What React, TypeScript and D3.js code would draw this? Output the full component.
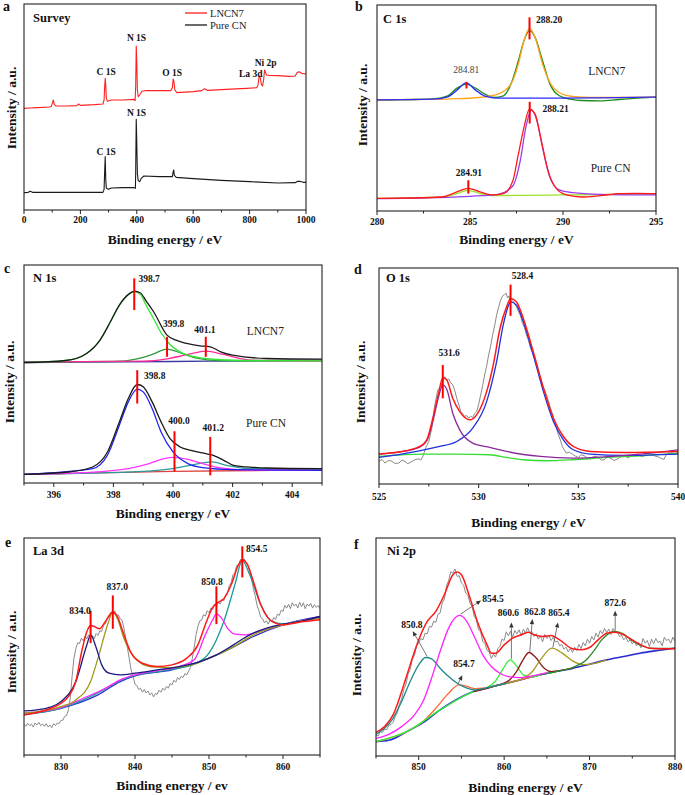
import React from "react";
import * as d3 from "d3";

type Pt = [number, number];

// ================= Panel a : Survey =================
const surveyMajorTicks = [0, 200, 400, 600, 800, 1000];
const surveyMinorTicks = [100, 300, 500, 700, 900];
const surveyLNCN7: Pt[] = [[0,305],[20,306],[50,307],[90,309],[97,311],[101,322],[104,330],[107,318],[112,312],[150,312],[188,313],[194,318],[200,314],[250,316],[280,318],[284,330],[286,370],[288,395],[290,372],[292,335],[296,326],[310,330],[350,330],[390,332],[394,328],[396,370],[398,492],[400,440],[402,360],[405,340],[410,345],[418,356],[430,358],[480,358],[520,358],[526,366],[529,393],[532,384],[535,360],[542,352],[600,355],[630,358],[640,364],[650,359],[700,361],[770,364],[790,365],[826,367],[830,376],[834,402],[838,396],[842,376],[846,372],[850,392],[853,420],[856,414],[860,405],[870,404],[900,403],[940,401],[962,402],[968,412],[975,415],[985,410],[1000,408]];
const surveyPureCN: Pt[] = [[0,52],[15,53],[22,56],[30,53],[100,53],[200,53],[280,53],[284,62],[286,115],[288,160],[290,90],[292,65],[300,62],[310,66],[350,67],[390,67],[395,65],[396,110],[398,272],[400,200],[402,110],[405,88],[410,85],[416,95],[425,102],[480,100],[526,100],[529,115],[531,120],[533,104],[540,98],[600,94],[700,89],[800,85],[900,81],[962,82],[970,86],[978,86],[990,83],[1000,83]];
const surveyLabels = [
  { text: "C 1S", x: 291, y: 406 },
  { text: "N 1S", x: 399, y: 508 },
  { text: "O 1S", x: 525, y: 401 },
  { text: "La 3d", x: 804, y: 399 },
  { text: "Ni 2p", x: 857, y: 431 },
  { text: "N 1S", x: 399, y: 281 },
  { text: "C 1S", x: 291, y: 166 },
];
const surveyLegend = ["LNCN7", "Pure CN"];

// ================= Panel b : C 1s =================
const c1sMajorTicks = [280, 285, 290, 295];
const c1sMinorTicks = [282.5, 287.5, 292.5];
const c1sLNCN7Green: Pt[] = [[280,332],[281,333],[282,334],[283,336],[283.8,345],[284.3,368],[284.8,380],[285.3,368],[285.8,350],[286.3,340],[286.8,345],[287.2,380],[287.6,450],[287.9,510],[288.2,540],[288.5,520],[288.9,450],[289.3,380],[289.8,345],[290.4,335],[291,331],[292,330],[293,334],[294,338],[295,341]];
const c1sLNCN7Blue: Pt[] = [[280,333],[283,335],[283.8,342],[284.3,362],[284.8,384],[285.3,362],[285.8,344],[286.5,338],[288,338],[290,338],[292,339],[295,341]];
const c1sLNCN7Orange: Pt[] = [[280,332],[282,334],[284,336],[285.5,340],[286.5,350],[287.2,380],[287.6,440],[287.9,510],[288.2,547],[288.5,520],[288.9,440],[289.3,385],[289.8,355],[290.5,343],[291.5,340],[293,340],[295,341]];
const c1sPureRed: Pt[] = [[280,38],[282,39],[283.5,42],[284.2,55],[284.9,68],[285.5,58],[286.2,48],[286.8,52],[287.3,90],[287.6,170],[287.9,250],[288.2,305],[288.5,290],[288.8,220],[289.2,120],[289.6,70],[290.2,48],[291,42],[292,46],[293,52],[294,53],[295,52]];
const c1sPurePurple: Pt[] = [[280,37],[283,40],[285,44],[286.5,50],[287.3,75],[287.7,150],[288,250],[288.3,302],[288.6,270],[288.9,190],[289.3,100],[289.8,63],[290.5,55],[292,50],[295,48]];
const c1sPureLime: Pt[] = [[280,38],[283.5,42],[284.3,52],[284.9,62],[285.5,53],[286.3,46],[288,47],[290,48],[292,49],[295,51]];
const c1sMarkers = [
  { x: 284.81, y0: 367, y1: 387 },
  { x: 288.2, y0: 514, y1: 580 },
  { x: 284.91, y0: 52, y1: 92 },
  { x: 288.21, y0: 262, y1: 327 },
];
const c1sLabels = [
  { text: "284.81", x: 284.8, y: 412, anchor: "middle", bold: false, color: "#444" },
  { text: "288.20", x: 288.55, y: 564, anchor: "start", bold: true, color: "#111" },
  { text: "284.91", x: 284.94, y: 104, anchor: "middle", bold: true, color: "#111" },
  { text: "288.21", x: 288.9, y: 297, anchor: "start", bold: true, color: "#111" },
];
const c1sSamples = [
  { text: "LNCN7", x: 292.35, y: 407 },
  { text: "Pure CN", x: 292.56, y: 117 },
];

// ================= Panel c : N 1s =================
const n1sMajorTicks = [396, 398, 400, 402, 404];
const n1sMinorTicks = [395, 397, 399, 401, 403, 405];
const n1sLNCN7Black: Pt[] = [[395,361],[396.4,367],[397.1,388],[397.55,428],[397.9,483],[398.2,533],[398.55,568],[398.7,575],[398.9,570],[399.1,545],[399.35,513],[399.8,443],[400.1,428],[400.46,418],[400.9,411],[401.25,408],[401.6,393],[402,383],[403.15,373],[405,371]];
const n1sLNCN7Lime: Pt[] = [[395,361],[396.4,367],[397.1,388],[397.55,428],[397.9,483],[398.2,533],[398.55,568],[398.7,573],[398.9,565],[399.1,532],[399.35,492],[399.6,450],[399.9,415],[400.3,390],[400.8,377],[401.5,370],[402.5,367],[405,366]];
const n1sLNCN7DarkGreen: Pt[] = [[395,362],[398,364],[398.8,372],[399.3,385],[399.8,401],[400.3,388],[400.8,374],[401.5,367],[403,366],[405,366]];
const n1sLNCN7Magenta: Pt[] = [[395,362],[399,365],[399.8,372],[400.5,385],[401.1,395],[401.7,385],[402.3,372],[403,367],[405,366]];
const n1sLNCN7Base: Pt[] = [[395,361],[400,364],[405,368]];
const n1sPureBlack: Pt[] = [[395,26],[396.5,33],[397.3,48],[397.8,93],[398.2,183],[398.5,253],[398.8,295],[399,288],[399.3,243],[399.6,183],[399.9,133],[400.24,108],[400.6,98],[401.1,88],[401.3,84],[401.7,68],[402.03,53],[402.7,47],[403.15,45],[405,43]];
const n1sPureBlue: Pt[] = [[395,26],[397.3,43],[397.8,83],[398.2,173],[398.5,243],[398.8,281],[399,273],[399.3,223],[399.6,153],[400,93],[400.5,58],[401,46],[402,40],[405,38]];
const n1sPureMagenta: Pt[] = [[395,26],[397,31],[398.5,43],[399.2,58],[399.7,73],[400,77],[400.5,71],[401,58],[401.6,45],[402.5,39],[405,38]];
const n1sPureTeal: Pt[] = [[395,26],[399,35],[400,43],[400.7,55],[401.3,63],[401.8,53],[402.5,43],[405,41]];
const n1sPureBase: Pt[] = [[395,26],[400,35],[405,39]];
const n1sMarkers = [
  { x: 398.7, y0: 518, y1: 613 },
  { x: 399.8, y0: 378, y1: 438 },
  { x: 401.1, y0: 378, y1: 438 },
  { x: 398.8, y0: 238, y1: 338 },
  { x: 400.05, y0: 35, y1: 155 },
  { x: 401.25, y0: 23, y1: 138 },
];
const n1sLabels = [
  { text: "398.7", x: 398.84, y: 601, anchor: "start" },
  { text: "399.8", x: 400.02, y: 468, anchor: "middle" },
  { text: "401.1", x: 401.07, y: 448, anchor: "middle" },
  { text: "398.8", x: 399.03, y: 311, anchor: "start" },
  { text: "400.0", x: 400.2, y: 176, anchor: "middle" },
  { text: "401.2", x: 401.35, y: 155, anchor: "middle" },
];
const n1sSamples = [
  { text: "LNCN7", x: 403.1, y: 443 },
  { text: "Pure CN", x: 403.12, y: 168 },
];

// ================= Panel d : O 1s =================
const o1sMajorTicks = [525, 530, 535, 540];
const o1sMinorTicks = [527.5, 532.5, 537.5];
const o1sRaw: Pt[] = [[525,68],[525.15,74],[525.3,63],[525.45,70],[525.6,70],[525.8,62],[526,63],[526.15,72],[526.3,68],[526.45,61],[526.6,66],[526.8,73],[527,76],[527.1,72],[527.2,83],[527.35,110],[527.5,128],[527.65,168],[527.8,238],[527.95,283],[528.1,293],[528.2,310],[528.3,323],[528.4,312],[528.5,316],[528.6,305],[528.7,298],[528.8,282],[528.9,258],[529,240],[529.1,218],[529.2,212],[529.3,203],[529.4,206],[529.5,198],[529.6,204],[529.7,200],[529.8,212],[529.9,218],[530,240],[530.1,268],[530.2,296],[530.3,328],[530.4,355],[530.5,388],[530.6,415],[530.7,448],[530.8,476],[530.9,508],[531,532],[531.1,553],[531.2,566],[531.3,570],[531.38,574],[531.45,560],[531.52,566],[531.6,548],[531.7,552],[531.8,543],[531.9,534],[532,518],[532.1,506],[532.2,483],[532.3,470],[532.4,448],[532.5,432],[532.6,408],[532.7,396],[532.8,378],[532.9,362],[533,338],[533.1,322],[533.2,298],[533.3,285],[533.4,268],[533.5,250],[533.6,228],[533.7,212],[533.8,188],[533.9,170],[534,148],[534.1,132],[534.2,113],[534.3,102],[534.4,93],[534.55,96],[534.7,90],[534.85,84],[535,80],[535.15,88],[535.3,85],[535.45,78],[535.6,76],[535.8,84],[536,80],[536.15,72],[536.3,73],[536.45,81],[536.6,78],[536.8,71],[537,76],[537.15,84],[537.3,86],[537.45,79],[537.6,82],[537.8,88],[538,90],[538.15,83],[538.3,84],[538.45,92],[538.6,91],[538.8,85],[539,82],[539.15,77],[539.3,74],[539.4,88],[539.5,92],[539.7,94],[539.85,90],[540,95]];
const o1sRed: Pt[] = [[525,90],[526,96],[527.04,113],[527.4,133],[527.7,198],[527.97,268],[528.2,320],[528.4,313],[528.7,258],[529.05,218],[529.56,193],[529.9,208],[530.4,278],[530.73,358],[531.07,468],[531.4,533],[531.6,558],[531.9,548],[532.24,498],[532.74,398],[533.25,288],[533.75,198],[534.25,143],[534.75,113],[535.6,98],[537.3,95],[540,98]];
const o1sPurple: Pt[] = [[525,90],[526,96],[527.04,111],[527.4,130],[527.7,188],[527.97,258],[528.2,298],[528.4,285],[528.7,213],[529.05,163],[529.7,123],[530.56,110],[531.4,98],[533.1,83],[534.75,78],[536.4,82],[538.1,90],[540,103]];
const o1sBlue: Pt[] = [[525,80],[526.4,93],[528.05,113],[528.9,128],[529.7,168],[530.4,248],[530.9,368],[531.23,478],[531.5,538],[531.6,548],[531.9,538],[532.24,488],[532.74,388],[533.25,278],[533.75,188],[534.25,133],[534.75,103],[535.6,90],[537.3,86],[540,90]];
const o1sGreen: Pt[] = [[525,83],[527.2,90],[528.9,90],[530.56,88],[531.4,80],[532.24,73],[533.4,70],[534.75,73],[536.4,80],[538.1,85],[540,93]];
const o1sMarkers = [
  { x: 528.2, y0: 258, y1: 358 },
  { x: 531.6, y0: 506, y1: 600 },
];
const o1sLabels = [
  { text: "531.6", x: 528.52, y: 386, anchor: "middle" },
  { text: "528.4", x: 532.2, y: 616, anchor: "middle" },
];

// ================= Panel e : La 3d =================
const la3dMajorTicks = [830, 840, 850, 860];
const la3dMinorTicks = [825, 835, 845, 855, 865];
const la3dRaw: Pt[] = [[825,92],[825.25,86],[825.5,95],[825.75,88],[826,92],[826.25,84],[826.5,96],[826.75,90],[827,98],[827.25,88],[827.5,93],[827.75,86],[828,94],[828.25,84],[828.5,90],[828.75,82],[829,94],[829.25,88],[829.5,96],[829.75,94],[830,104],[830.25,104],[830.5,116],[830.75,118],[831,135],[831.25,170],[831.5,235],[831.75,290],[832,318],[832.25,336],[832.5,334],[832.75,350],[833,342],[833.25,356],[833.5,348],[833.75,360],[834,352],[834.25,358],[834.5,348],[834.75,364],[835,358],[835.25,372],[835.5,370],[835.75,388],[836,392],[836.25,410],[836.5,412],[836.75,428],[837,422],[837.25,432],[837.5,418],[837.75,420],[838,408],[838.25,404],[838.5,380],[838.75,350],[839,318],[839.25,285],[839.5,252],[839.75,235],[840,212],[840.25,208],[840.5,196],[840.75,200],[841,188],[841.25,196],[841.5,186],[841.75,192],[842,180],[842.25,186],[842.5,174],[842.75,184],[843,182],[843.25,194],[843.5,188],[843.75,200],[844,194],[844.25,206],[844.5,200],[844.75,214],[845,210],[845.25,224],[845.5,218],[845.75,232],[846,226],[846.25,236],[846.5,232],[846.75,244],[847,240],[847.25,252],[847.5,262],[847.75,290],[848,322],[848.25,360],[848.5,385],[848.75,402],[849,404],[849.25,420],[849.5,416],[849.75,432],[850,426],[850.25,440],[850.5,436],[850.75,452],[851,446],[851.25,458],[851.5,452],[851.75,466],[852,462],[852.25,480],[852.5,486],[852.75,508],[853,516],[853.25,540],[853.5,546],[853.75,568],[854,568],[854.25,586],[854.5,580],[854.75,588],[855,576],[855.25,570],[855.5,550],[855.75,528],[856,498],[856.25,476],[856.5,448],[856.75,432],[857,412],[857.25,408],[857.5,396],[857.75,402],[858,392],[858.25,404],[858.5,398],[858.75,412],[859,406],[859.25,422],[859.5,418],[859.75,434],[860,430],[860.25,448],[860.5,440],[860.75,452],[861,438],[861.25,456],[861.5,446],[861.75,452],[862,440],[862.25,458],[862.5,444],[862.75,456],[863,438],[863.25,452],[863.5,446],[863.75,454],[864,440],[864.25,450],[864.5,442],[864.75,448],[865,438]];
const la3dRed: Pt[] = [[825,120],[828,135],[830,155],[831,175],[832,220],[832.8,310],[833.5,370],[834,388],[834.5,385],[835.2,378],[836,400],[837,428],[837.6,415],[838.5,360],[839.5,305],[841,275],[843,265],[845,270],[847,290],[848.5,330],[849.5,390],[850.5,442],[851.3,458],[852,468],[853,510],[854,570],[854.5,585],[855.2,570],[856,520],[857,450],[858,410],[859,395],[860,390],[862,397],[865,405]];
const la3dNavy: Pt[] = [[825,132],[828,140],[830,160],[832,220],[833.5,330],[834,360],[834.7,325],[835.5,270],[836.5,245],[838,240],[840,245],[843,255],[846,265],[848.8,280],[851,300],[853.3,330],[855.5,360],[857.8,380],[860,392],[862.3,400],[865,415]];
const la3dOlive: Pt[] = [[825,125],[830,145],[832,165],[834,220],[835,290],[836.3,390],[837,428],[837.6,410],[838.5,350],[840,290],[842,265],[845,262],[848,272],[850,290],[853,320],[856,360],[860,390],[865,410]];
const la3dMagenta: Pt[] = [[825,125],[830,142],[833,170],[836,200],[838,225],[840,240],[843,253],[846,265],[848,285],[849.5,360],[850.5,405],[851,423],[851.7,410],[852.5,380],[853.5,362],[855,360],[857,372],[860,390],[865,412]];
const la3dTeal: Pt[] = [[825,122],[830,140],[833,165],[836,198],[838,223],[840,238],[843,250],[846,260],[848,272],[850,305],[852,400],[853.5,510],[854.5,582],[855.5,540],[857,450],[858.5,400],[860,393],[862,400],[865,412]];
const la3dBase: Pt[] = [[825,122],[830,140],[835,180],[838,220],[840,237],[845,255],[850,290],[853,320],[856,355],[860,390],[865,415]];
const la3dMarkers = [
  { x: 834.0, y0: 335, y1: 432 },
  { x: 837.0, y0: 378, y1: 478 },
  { x: 851.0, y0: 392, y1: 505 },
  { x: 854.5, y0: 532, y1: 625 },
];
const la3dLabels = [
  { text: "834.0", x: 832.57, y: 422, anchor: "middle" },
  { text: "837.0", x: 837.6, y: 495, anchor: "middle" },
  { text: "850.8", x: 850.4, y: 510, anchor: "middle" },
  { text: "854.5", x: 855.0, y: 608, anchor: "start" },
];

// ================= Panel f : Ni 2p =================
const ni2pMajorTicks = [850, 860, 870, 880];
const ni2pMinorTicks = [845, 855, 865, 875];
const ni2pRaw: Pt[] = [[845,63],[845.25,60],[845.5,74],[845.75,70],[846,80],[846.25,79],[846.5,92],[846.75,94],[847,101],[847.25,118],[847.5,130],[847.75,156],[848,170],[848.25,199],[848.5,214],[848.75,245],[849,259],[849.25,290],[849.5,302],[849.75,330],[850,338],[850.25,352],[850.5,348],[850.75,368],[851,366],[851.25,388],[851.5,386],[851.75,404],[852,400],[852.25,424],[852.5,428],[852.75,458],[853,470],[853.25,510],[853.5,525],[853.75,552],[854,548],[854.25,560],[854.5,538],[854.75,540],[855,518],[855.25,512],[855.5,488],[855.75,482],[856,458],[856.25,448],[856.5,418],[856.75,408],[857,378],[857.25,372],[857.5,342],[857.75,338],[858,316],[858.25,312],[858.5,292],[858.75,305],[859,296],[859.25,322],[859.5,328],[859.75,350],[860,346],[860.25,372],[860.5,360],[860.75,374],[861,356],[861.25,376],[861.5,366],[861.75,378],[862,360],[862.25,380],[862.5,368],[862.75,384],[863,370],[863.25,372],[863.5,358],[863.75,366],[864,350],[864.25,360],[864.5,342],[864.75,364],[865,352],[865.25,360],[865.5,346],[865.75,356],[866,342],[866.25,344],[866.5,330],[866.75,334],[867,320],[867.25,326],[867.5,312],[867.75,322],[868,310],[868.25,326],[868.5,316],[868.75,334],[869,322],[869.25,340],[869.5,330],[869.75,350],[870,338],[870.25,358],[870.5,348],[870.75,368],[871,356],[871.25,376],[871.5,366],[871.75,382],[872,370],[872.25,380],[872.5,364],[872.75,382],[873,370],[873.25,372],[873.5,358],[873.75,362],[874,348],[874.25,356],[874.5,342],[874.75,348],[875,336],[875.25,344],[875.5,330],[875.75,340],[876,324],[876.25,352],[876.5,338],[876.75,346],[877,328],[877.25,350],[877.5,336],[877.75,352],[878,340],[878.25,344],[878.5,330],[878.75,356],[879,346],[879.25,350],[879.5,338],[879.75,356],[880,344]];
const ni2pRed: Pt[] = [[845,71],[846,88],[847,123],[848,193],[849,273],[850,348],[851,403],[852,433],[853,483],[854,543],[854.5,551],[855,543],[856,473],[857,393],[858,333],[858.5,308],[859,308],[860,333],[861,353],[862,363],[862.8,371],[863.5,363],[864.5,358],[865.5,361],[866.5,348],[868,321],[869,318],[870,325],[871,348],[872,368],[873,371],[874,363],[875,348],[876,333],[877,323],[880,321]];
const ni2pBase: Pt[] = [[845,43],[846.5,47],[848.6,73],[850.5,100],[852.5,138],[854.5,170],[856.4,193],[858.3,206],[860.3,218],[862.2,230],[864.2,243],[866.1,253],[868.1,263],[870,275],[872,288],[874,298],[875.9,308],[878,316],[880,323]];
const ni2pTeal: Pt[] = [[845,65],[846,83],[847,113],[848,163],[849,223],[850,273],[850.8,295],[851.5,291],[852.5,263],[853.5,238],[854.5,218],[855.5,205],[856.5,198],[858.3,206],[860.3,218]];
const ni2pMagenta: Pt[] = [[845,53],[846.5,65],[848,88],[849.5,123],[850.5,163],[851.5,233],[852.5,313],[853.5,383],[854.3,415],[854.8,421],[855.5,408],[856.5,358],[857.5,303],[858.5,268],[859.5,248],[860.5,238],[862,235],[863.5,241],[865,250]];
const ni2pOrange: Pt[] = [[845,43],[848.6,73],[850.5,103],[852,143],[853.5,188],[854.7,213],[855.5,210],[856.5,202],[857.5,203],[858.5,207],[860.3,218],[862.2,230],[864.2,243]];
const ni2pGreen: Pt[] = [[845,43],[848.6,73],[852.5,138],[856.4,193],[858,205],[859,225],[859.8,258],[860.7,288],[861.5,268],[862.3,242],[863.2,237],[864.5,245],[866.1,253]];
const ni2pBrown: Pt[] = [[856.4,193],[859,210],[860.5,225],[861.5,255],[862.3,292],[862.9,310],[863.7,295],[864.6,265],[865.5,253],[867,258],[868.1,263]];
const ni2pOlive: Pt[] = [[858.3,206],[860.3,218],[862,230],[863.2,250],[864.3,290],[865.6,323],[866.8,308],[868,285],[869.2,274],[870.5,277],[872,288]];
const ni2pDarkGreen: Pt[] = [[864.2,243],[866.1,253],[868,265],[869.5,285],[870.5,315],[871.5,350],[872.9,373],[874,365],[875,345],[876.3,328],[877.5,322],[879,322],[880,323]];
const ni2pArrows = [
  { text: "850.8", fromX: 851.0, fromY: 298, toX: 849.3, toY: 374, lx: 849.2, ly: 384 },
  { text: "854.5", fromX: 854.9, fromY: 425, toX: 857.3, toY: 466, lx: 858.7, ly: 461 },
  { text: "854.7", fromX: 854.6, fromY: 216, toX: 855.1, toY: 242, lx: 855.3, ly: 266 },
  { text: "860.6", fromX: 860.85, fromY: 290, toX: 860.85, toY: 400, lx: 860.5, ly: 420 },
  { text: "862.8", fromX: 863.0, fromY: 312, toX: 863.3, toY: 410, lx: 863.6, ly: 423 },
  { text: "865.4", fromX: 865.7, fromY: 325, toX: 866.3, toY: 400, lx: 866.4, ly: 418 },
  { text: "872.6", fromX: 873.0, fromY: 375, toX: 873.0, toY: 435, lx: 873.0, ly: 450 },
];

// ================= Rendering =================
const FONT = "'Liberation Serif', 'Times New Roman', serif";

type Curve = { data: Pt[]; color: string; width?: number; smooth?: boolean };
type PanelCfg = {
  id: string;
  letter: string;
  letterPos: [number, number];
  title: string;
  titlePos: [number, number];
  box: { left: number; right: number; top: number; bottom: number };
  xDomain: [number, number];
  yMax: number;
  major: number[];
  minor: number[];
  tickLabelY: number;
  xLabel: string;
  xLabelY: number;
  yLabelPos: [number, number];
  curves: Curve[];
  markers?: { x: number; y0: number; y1: number }[];
  labels?: { text: string; x: number; y: number; anchor?: string; bold?: boolean; color?: string }[];
  samples?: { text: string; x: number; y: number }[];
  arrows?: typeof ni2pArrows;
};

function Panel({ cfg }: { cfg: PanelCfg }) {
  const { box } = cfg;
  const x = d3.scaleLinear().domain(cfg.xDomain).range([box.left, box.right]);
  const y = d3.scaleLinear().domain([0, cfg.yMax]).range([box.bottom, box.top]);
  const smooth = d3.line<Pt>().x((d) => x(d[0])).y((d) => y(d[1])).curve(d3.curveMonotoneX);
  const straight = d3.line<Pt>().x((d) => x(d[0])).y((d) => y(d[1]));
  const clipId = `clip-${cfg.id}`;
  return (
    <g>
      <defs>
        <clipPath id={clipId}>
          <rect x={box.left} y={box.top} width={box.right - box.left} height={box.bottom - box.top} />
        </clipPath>
      </defs>
      <g clipPath={`url(#${clipId})`}>
        {cfg.curves.map((c, i) => (
          <path
            key={i}
            d={(c.smooth === false ? straight : smooth)(c.data) || ""}
            fill="none"
            stroke={c.color}
            strokeWidth={c.width ?? 1.3}
            strokeLinejoin="round"
          />
        ))}
        {(cfg.markers || []).map((m, i) => (
          <line key={i} x1={x(m.x)} x2={x(m.x)} y1={y(m.y0)} y2={y(m.y1)} stroke="#ff0000" strokeWidth={2} />
        ))}
      </g>
      {(cfg.arrows || []).map((a, i) => {
        const x1 = x(a.fromX), y1 = y(a.fromY), x2 = x(a.toX), y2 = y(a.toY);
        const ang = Math.atan2(y2 - y1, x2 - x1);
        const L = 5, W = 2.2;
        const bx = x2 - L * Math.cos(ang), by = y2 - L * Math.sin(ang);
        const p1 = [bx + W * Math.sin(ang), by - W * Math.cos(ang)];
        const p2 = [bx - W * Math.sin(ang), by + W * Math.cos(ang)];
        return (
          <g key={i}>
            <line x1={x1} y1={y1} x2={bx} y2={by} stroke="#555" strokeWidth={0.8} />
            <polygon points={`${x2},${y2} ${p1[0]},${p1[1]} ${p2[0]},${p2[1]}`} fill="#333" />
            <text x={x(a.lx)} y={y(a.ly)} textAnchor="middle" fontFamily={FONT} fontWeight="bold" fontSize={9.5} fill="#111">
              {a.text}
            </text>
          </g>
        );
      })}
      {(cfg.labels || []).map((l, i) => (
        <text
          key={i}
          x={x(l.x)}
          y={y(l.y)}
          textAnchor={(l.anchor as any) || "middle"}
          fontFamily={FONT}
          fontWeight={l.bold === false ? "normal" : "bold"}
          fontSize={9.5}
          fill={l.color || "#111"}
        >
          {l.text}
        </text>
      ))}
      {(cfg.samples || []).map((l, i) => (
        <text key={i} x={x(l.x)} y={y(l.y)} textAnchor="middle" fontFamily={FONT} fontSize={11.5} fill="#222">
          {l.text}
        </text>
      ))}
      <rect x={box.left} y={box.top} width={box.right - box.left} height={box.bottom - box.top} fill="none" stroke="#222" strokeWidth={1.1} />
      {cfg.major.map((t) => (
        <g key={"M" + t}>
          <line x1={x(t)} x2={x(t)} y1={box.bottom} y2={box.bottom + 4} stroke="#222" strokeWidth={1} />
          <text x={x(t)} y={cfg.tickLabelY} textAnchor="middle" fontFamily={FONT} fontWeight="bold" fontSize={9.5} fill="#111">
            {t}
          </text>
        </g>
      ))}
      {cfg.minor.map((t) => (
        <line key={"m" + t} x1={x(t)} x2={x(t)} y1={box.bottom} y2={box.bottom + 2.5} stroke="#222" strokeWidth={1} />
      ))}
      <text x={(box.left + box.right) / 2} y={cfg.xLabelY} textAnchor="middle" fontFamily={FONT} fontWeight="bold" fontSize={13.5} fill="#111">
        {cfg.xLabel}
      </text>
      <text
        transform={`translate(${cfg.yLabelPos[0]},${cfg.yLabelPos[1]}) rotate(-90)`}
        textAnchor="middle"
        fontFamily={FONT}
        fontWeight="bold"
        fontSize={13.5}
        fill="#111"
      >
        Intensity / a.u.
      </text>
      <text x={cfg.titlePos[0]} y={cfg.titlePos[1]} fontFamily={FONT} fontWeight="bold" fontSize={12.5} fill="#111">
        {cfg.title}
      </text>
      <text x={cfg.letterPos[0]} y={cfg.letterPos[1]} fontFamily={FONT} fontWeight="bold" fontSize={14} fill="#111">
        {cfg.letter}
      </text>
    </g>
  );
}

const panels: PanelCfg[] = [
  {
    id: "a", letter: "a", letterPos: [3, 11], title: "Survey", titlePos: [33, 22],
    box: { left: 24, right: 306, top: 4, bottom: 210 }, xDomain: [0, 1000], yMax: 618,
    major: surveyMajorTicks, minor: surveyMinorTicks, tickLabelY: 223,
    xLabel: "Binding energy / eV", xLabelY: 244, yLabelPos: [16, 108],
    curves: [
      { data: surveyPureCN, color: "#1a1a1a", width: 1.1, smooth: false },
      { data: surveyLNCN7, color: "#ff2020", width: 1.1, smooth: false },
    ],
    labels: surveyLabels.map((l) => ({ ...l, anchor: "middle" })),
  },
  {
    id: "b", letter: "b", letterPos: [355, 11], title: "C 1s", titlePos: [383, 23],
    box: { left: 377, right: 656, top: 5, bottom: 211 }, xDomain: [280, 295], yMax: 617,
    major: c1sMajorTicks, minor: c1sMinorTicks, tickLabelY: 225,
    xLabel: "Binding energy / eV", xLabelY: 244, yLabelPos: [367, 105],
    curves: [
      { data: c1sLNCN7Green, color: "#1e8c1e" },
      { data: c1sLNCN7Orange, color: "#ffa31a" },
      { data: c1sLNCN7Blue, color: "#2b2bff" },
      { data: c1sPureLime, color: "#9be22a" },
      { data: c1sPurePurple, color: "#9a3cf0" },
      { data: c1sPureRed, color: "#ff1a1a" },
    ],
    markers: c1sMarkers, labels: c1sLabels, samples: c1sSamples,
  },
  {
    id: "c", letter: "c", letterPos: [4, 273], title: "N 1s", titlePos: [33, 282],
    box: { left: 24, right: 322, top: 265, bottom: 483 }, xDomain: [395, 405], yMax: 653,
    major: n1sMajorTicks, minor: n1sMinorTicks, tickLabelY: 498,
    xLabel: "Binding energy / eV", xLabelY: 518, yLabelPos: [14, 382],
    curves: [
      { data: n1sLNCN7Base, color: "#3a3aa0" },
      { data: n1sLNCN7DarkGreen, color: "#2e9a3e" },
      { data: n1sLNCN7Magenta, color: "#ff2d9a" },
      { data: n1sLNCN7Lime, color: "#33e633" },
      { data: n1sLNCN7Black, color: "#1a1a1a" },
      { data: n1sPureBase, color: "#e04040" },
      { data: n1sPureTeal, color: "#2a9a9a" },
      { data: n1sPureMagenta, color: "#ff33ff" },
      { data: n1sPureBlue, color: "#2222ee" },
      { data: n1sPureBlack, color: "#1a1a1a" },
    ],
    markers: n1sMarkers, labels: n1sLabels, samples: n1sSamples,
  },
  {
    id: "d", letter: "d", letterPos: [354, 274], title: "O 1s", titlePos: [386, 282],
    box: { left: 379, right: 678, top: 268, bottom: 484 }, xDomain: [525, 540], yMax: 650,
    major: o1sMajorTicks, minor: o1sMinorTicks, tickLabelY: 500,
    xLabel: "Binding energy / eV", xLabelY: 527, yLabelPos: [365, 382],
    curves: [
      { data: o1sRaw, color: "#8a8a8a", width: 1, smooth: false },
      { data: o1sGreen, color: "#33dd33" },
      { data: o1sBlue, color: "#1f2fe0" },
      { data: o1sPurple, color: "#8a2a9a" },
      { data: o1sRed, color: "#ff1a1a", width: 1.5 },
    ],
    markers: o1sMarkers, labels: o1sLabels,
  },
  {
    id: "e", letter: "e", letterPos: [5, 547], title: "La 3d", titlePos: [33, 555],
    box: { left: 24, right: 320, top: 538, bottom: 755 }, xDomain: [825, 865], yMax: 650,
    major: la3dMajorTicks, minor: la3dMinorTicks, tickLabelY: 770,
    xLabel: "Binding energy / ev", xLabelY: 790, yLabelPos: [16, 652],
    curves: [
      { data: la3dRaw, color: "#8a8a8a", width: 1, smooth: false },
      { data: la3dBase, color: "#3030d0" },
      { data: la3dTeal, color: "#1a9a9a" },
      { data: la3dMagenta, color: "#ff22ff" },
      { data: la3dOlive, color: "#a09a1a" },
      { data: la3dNavy, color: "#1a1a80" },
      { data: la3dRed, color: "#ff1a1a", width: 1.5 },
    ],
    markers: la3dMarkers, labels: la3dLabels,
  },
  {
    id: "f", letter: "f", letterPos: [354, 549], title: "Ni 2p", titlePos: [387, 555],
    box: { left: 376, right: 675, top: 538, bottom: 756 }, xDomain: [845, 880], yMax: 653,
    major: ni2pMajorTicks, minor: ni2pMinorTicks, tickLabelY: 770,
    xLabel: "Binding energy / eV", xLabelY: 792, yLabelPos: [361, 655],
    curves: [
      { data: ni2pRaw, color: "#8a8a8a", width: 1, smooth: false },
      { data: ni2pBase, color: "#2a2ad0", width: 1.6 },
      { data: ni2pOrange, color: "#ff6a3a" },
      { data: ni2pGreen, color: "#33ee33" },
      { data: ni2pBrown, color: "#8b1a1a" },
      { data: ni2pOlive, color: "#a89a20" },
      { data: ni2pDarkGreen, color: "#2a8a2a" },
      { data: ni2pTeal, color: "#1a8a8a" },
      { data: ni2pMagenta, color: "#ff22ff" },
      { data: ni2pRed, color: "#ff1a1a", width: 1.5 },
    ],
    arrows: ni2pArrows,
  },
];

export default function App() {
  return (
    <svg
      width={685}
      height={795}
      viewBox="0 0 685 795"
      style={{ position: "absolute", left: 0, top: 0, background: "#fff", display: "block" }}
    >
      <rect x={0} y={0} width={685} height={795} fill="#fff" />
      {panels.map((p) => (
        <Panel key={p.id} cfg={p} />
      ))}
      {/* Legend for panel a */}
      <line x1={185} x2={207} y1={13} y2={13} stroke="#ff2020" strokeWidth={1.3} />
      <text x={210} y={16.5} fontFamily={FONT} fontSize={10.5} fill="#222">{surveyLegend[0]}</text>
      <line x1={185} x2={207} y1={25} y2={25} stroke="#1a1a1a" strokeWidth={1.3} />
      <text x={210} y={28.5} fontFamily={FONT} fontSize={10.5} fill="#222">{surveyLegend[1]}</text>
    </svg>
  );
}
